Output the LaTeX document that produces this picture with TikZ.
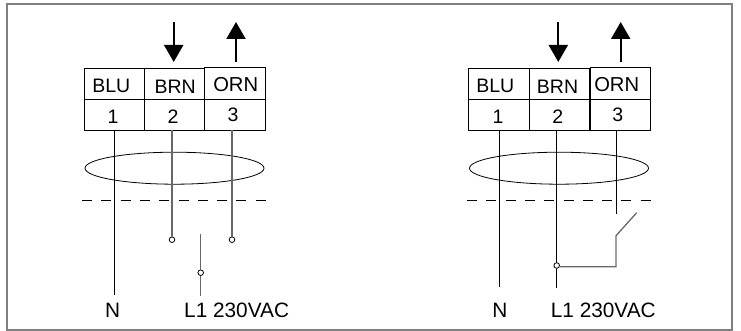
\documentclass[tikz,border=0pt]{standalone}
\usepackage{fontspec}
\setmainfont{Liberation Sans}
\usetikzlibrary{arrows.meta,shapes.geometric}
\definecolor{framegray}{HTML}{808080}
\definecolor{wiregray}{HTML}{686868}
\tikzset{
  x=1pt,y=-1pt,
  cell/.style={draw=black,line width=0.8pt,minimum width=60.5pt,minimum height=31pt,inner sep=0pt,outer sep=0pt},
  celltext/.style={inner sep=0pt,font=\fontsize{19.5}{19.5}\selectfont},
  wire/.style={draw=black,line width=0.8pt},
  greywire/.style={draw=wiregray,line width=1.3pt},
  term/.style={circle,draw=black,fill=white,line width=0.8pt,minimum size=5.6pt,inner sep=0pt,outer sep=0pt},
  sheath/.style={ellipse,draw=black,line width=0.8pt,minimum width=179pt,minimum height=32pt,inner sep=0pt},
  flow/.style={line width=2.2pt,draw=black,-{Triangle[length=17pt,width=19pt]}},
  bus/.style={draw=black,line width=0.7pt,dash pattern=on 10pt off 9.3pt},
  lab/.style={inner sep=0pt,font=\fontsize{20.8}{20.8}\selectfont,anchor=base west},
}
\begin{document}
\begin{tikzpicture}
\useasboundingbox (0,0) rectangle (741,331);
\node[draw=framegray,line width=2pt,minimum width=725pt,minimum height=326pt,inner sep=0pt] (frame) at (369.5,167) {};
% left panel
\node[cell] (lblu) at (114.2,83.8) {};
\node[cell] (lbrn) at (174.5,83.8) {};
\node[cell,minimum height=32pt] (lorn) at (235,83.3) {};
\node[cell] (lone) at (114.2,114.8) {};
\node[cell] (ltwo) at (174.5,114.8) {};
\node[cell] (lthree) at (235,114.8) {};
\node[celltext] (lbluT) at (111.3,86.3) {BLU};
\node[celltext] (lbrnT) at (175.2,86.3) {BRN};
\node[celltext,font=\fontsize{20.2}{20.2}\selectfont] (lornT) at (235.7,85) {ORN};
\node[celltext] (loneT) at (113,116.7) {1};
\node[celltext] (ltwoT) at (173,116.7) {2};
\node[celltext] (lthreeT) at (233,115.2) {3};
\node[sheath] (lsheath) at (174.5,168.2) {};
\coordinate (lda) at (173.7,22); \coordinate (ldb) at (173.7,62);
\coordinate (lub) at (236,62); \coordinate (lua) at (236,22);
\draw[flow] (lda) -- (ldb);
\draw[flow] (lub) -- (lua);
\coordinate (lb1) at (82,200); \coordinate (lb2) at (266,200);
\draw[bus] (lb1) -- (lb2);
\coordinate (ln) at (114.3,295);
\node[term] (lt2) at (172,239.7) {};
\node[term] (lt3) at (232,239.7) {};
\node[term] (lt4) at (200.7,272.7) {};
\coordinate (lsa) at (200.7,233.5); \coordinate (lsb) at (200.7,296);
\draw[wire] (lone.south -| ln) -- (ln);
\draw[greywire] (ltwo.south -| lt2) -- (lt2);
\draw[greywire] (lthree.south -| lt3) -- (lt3);
\draw[greywire] (lsa) -- (lt4) -- (lsb);
\node[lab,anchor=base] (lnt) at (112.7,317.5) {N};
\node[lab] (lvt) at (184,317.5) {L1 230VAC};
% right panel
\node[cell] (rblu) at (499,83.8) {};
\node[cell] (rbrn) at (559.6,83.8) {};
\node[cell,minimum height=32pt] (rorn) at (620.3,83.3) {};
\node[cell] (rone) at (499,114.8) {};
\node[cell] (rtwo) at (559.6,114.8) {};
\node[cell] (rthree) at (620.3,114.8) {};
\node[celltext] (rbluT) at (495.3,86.3) {BLU};
\node[celltext] (rbrnT) at (557.5,86.3) {BRN};
\node[celltext,font=\fontsize{20.2}{20.2}\selectfont] (rornT) at (616.7,85) {ORN};
\node[celltext] (roneT) at (498,116.7) {1};
\node[celltext] (rtwoT) at (557.7,116.7) {2};
\node[celltext] (rthreeT) at (617.7,115.2) {3};
\node[sheath] (rsheath) at (559,168.2) {};
\coordinate (rda) at (558.3,22); \coordinate (rdb) at (558.3,62);
\coordinate (rub) at (620.7,62); \coordinate (rua) at (620.7,22);
\draw[flow] (rda) -- (rdb);
\draw[flow] (rub) -- (rua);
\coordinate (rb1) at (467,200); \coordinate (rb2) at (651,200);
\draw[bus] (rb1) -- (rb2);
\coordinate (rn) at (499.3,287);
\coordinate (rl) at (556.7,288);
\coordinate (rs1) at (616,213.5);
\coordinate (rs2) at (636.7,212.7);
\coordinate (rs3) at (616,235.7);
\coordinate (rs4) at (616,266.8);
\draw[wire] (rone.south -| rn) -- (rn);
\draw[wire] (rtwo.south -| rl) -- (rl);
\draw[wire] (rthree.south -| rs1) -- (rs1);
\node[term] (rt) at (556.7,265.5) {};
\draw[greywire] (rs2) -- (rs3) -- (rs4) -- (rt.east |- rs4);
\node[lab,anchor=base] (rnt) at (500,317.5) {N};
\node[lab] (rvt) at (550.7,317.5) {L1 230VAC};
\end{tikzpicture}
\end{document}
